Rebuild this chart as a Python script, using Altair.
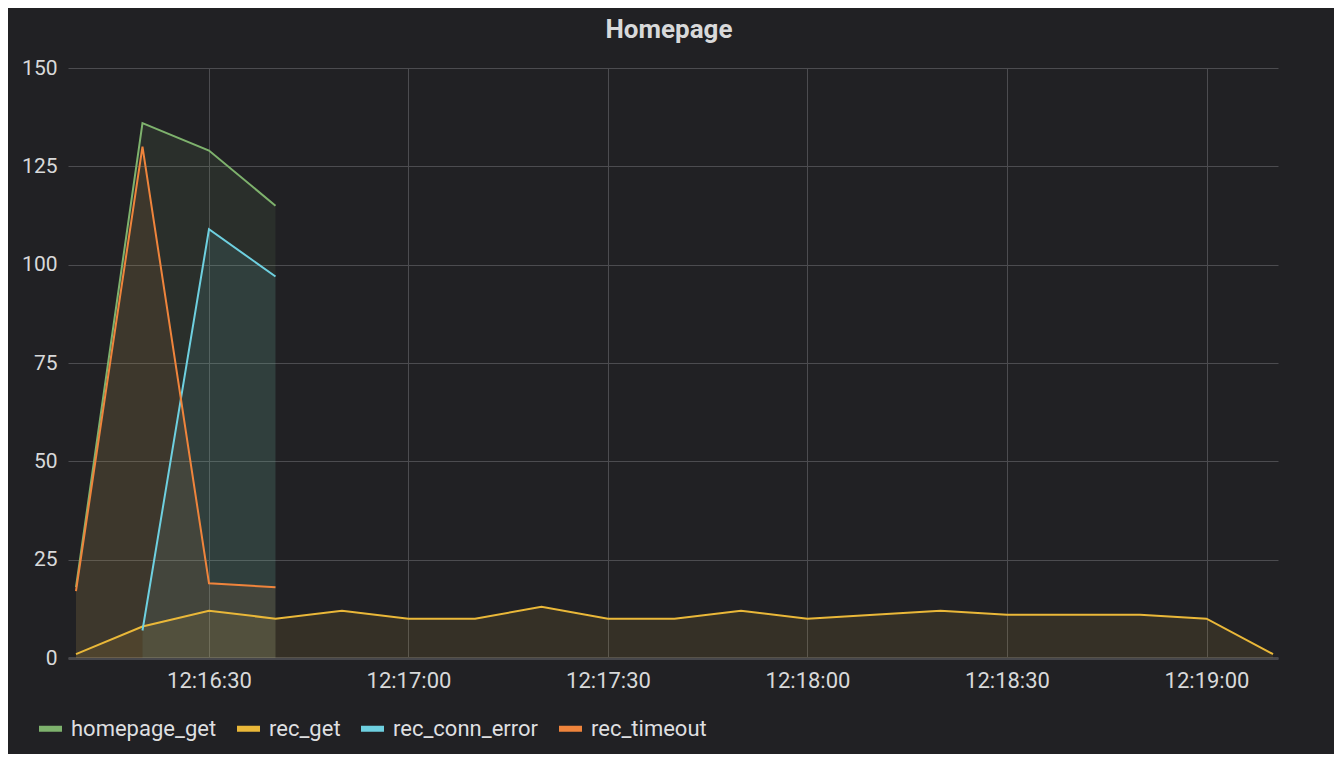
import altair as alt
import pandas as pd

# ---- data ----
times = ["12:16:10", "12:16:20", "12:16:30", "12:16:40", "12:16:50",
         "12:17:00", "12:17:10", "12:17:20", "12:17:30", "12:17:40",
         "12:17:50", "12:18:00", "12:18:10", "12:18:20", "12:18:30",
         "12:18:40", "12:18:50", "12:19:00", "12:19:10"]
homepage_get = [18, 136, 129, 115]
rec_get = [1, 8, 12, 10, 12, 10, 10, 13, 10, 10, 12, 10, 11, 12, 11, 11, 11, 10, 1]
rec_conn_error = [None, 7, 109, 97]
rec_timeout = [17, 130, 19, 18]

series_names = ["homepage_get", "rec_get", "rec_conn_error", "rec_timeout"]
series_colors = ["#7EB26D", "#EAB839", "#6ED0E0", "#EF843C"]
x_tick_labels = ["12:16:30", "12:17:00", "12:17:30", "12:18:00", "12:18:30", "12:19:00"]
y_ticks = [0, 25, 50, 75, 100, 125, 150]


def to_sec(t):
    h, m, s = map(int, t.split(":"))
    return h * 3600 + m * 60 + s - (12 * 3600 + 16 * 60)


rows = []
for name, vals in zip(series_names, [homepage_get, rec_get, rec_conn_error, rec_timeout]):
    for t, v in zip(times, vals):
        if v is not None:
            rows.append({"t": to_sec(t), "label": t, "series": name,
                         "series_fill": name, "value": v})
df = pd.DataFrame(rows)

tick_secs = [to_sec(t) for t in x_tick_labels]
label_expr = "[" + ",".join("'%s'" % s for s in x_tick_labels) + "][indexof([" + \
    ",".join(str(v) for v in tick_secs) + "], datum.value)]"

x_domain = [to_sec(times[0]) - 1.2, to_sec(times[-1]) + 0.75]

TXT = "#d8d9da"
GRID = "#4c4c50"
FONT = "Roboto"

x_enc = alt.X("t:Q", scale=alt.Scale(domain=x_domain, nice=False, zero=False),
              axis=alt.Axis(values=tick_secs, labelExpr=label_expr, title=None,
                            grid=True, gridColor=GRID, gridWidth=1,
                            ticks=False, domain=True, domainColor="#47474b", domainWidth=3,
                            labelFontSize=22, labelColor=TXT, labelFont=FONT,
                            labelPadding=12, labelFlush=False))
y_enc = alt.Y("value:Q", scale=alt.Scale(domain=[0, 150], nice=False), stack=None,
              axis=alt.Axis(values=y_ticks, title=None, grid=True, gridColor=GRID,
                            gridWidth=1, ticks=False, domain=False,
                            labelFontSize=21, labelColor=TXT, labelFont=FONT,
                            labelPadding=11))

areas = alt.Chart(df).mark_area(fillOpacity=0.1, interpolate="linear", clip=True).encode(
    x=x_enc, y=y_enc,
    fill=alt.Fill("series_fill:N",
                  scale=alt.Scale(domain=series_names, range=series_colors),
                  legend=None),
    detail="series_fill:N",
)

lines = alt.Chart(df).mark_line(strokeWidth=2, interpolate="linear", clip=True).encode(
    x=x_enc, y=y_enc,
    color=alt.Color("series:N",
                    scale=alt.Scale(domain=series_names, range=series_colors),
                    legend=alt.Legend(orient="none", legendX=-32, legendY=646,
                                      direction="horizontal", title=None,
                                      symbolType="stroke", symbolSize=529,
                                      symbolStrokeWidth=6, symbolOpacity=1,
                                      labelFontSize=22, labelColor="#dedfe0", labelFont=FONT,
                                      labelOffset=6, columnPadding=8, padding=0)),
)

chart = alt.layer(areas, lines).resolve_scale(fill="independent", color="independent").properties(
    width=1210, height=590,
    padding={"left": 60, "top": 60, "right": 56, "bottom": 96},
    autosize=alt.AutoSizeParams(type="none"),
    background="#212124",
    title=alt.TitleParams("Homepage", fontSize=26, fontWeight="bold", color=TXT,
                          font=FONT, offset=14, anchor="middle", dx=-4),
).configure_view(stroke=None)

chart.save("out.html", embed_options={"renderer": "svg", "actions": False})
